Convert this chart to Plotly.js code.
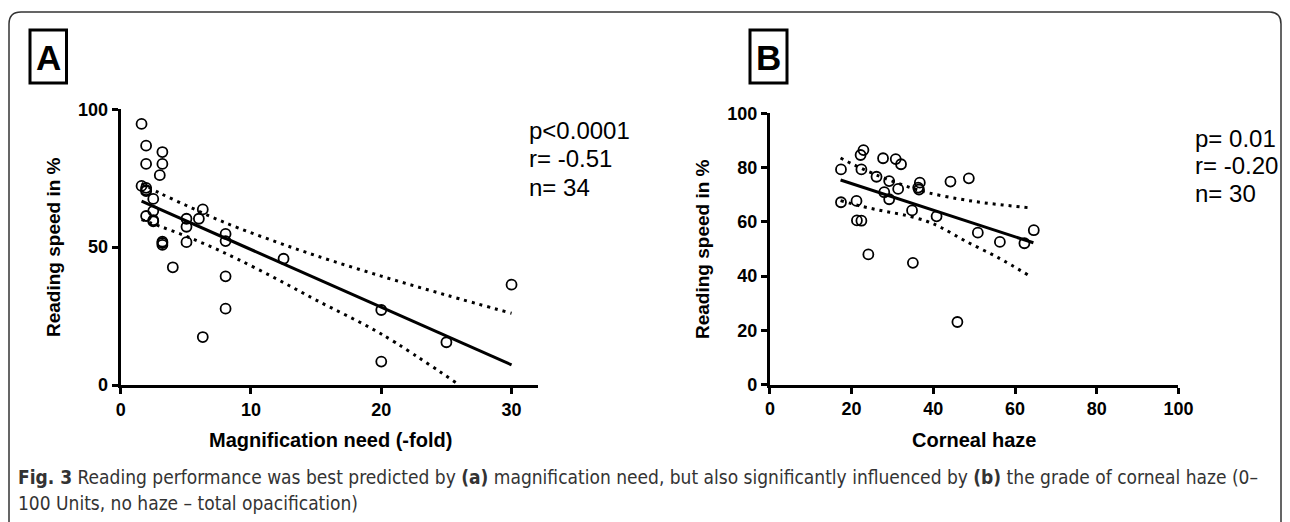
<!DOCTYPE html>
<html>
<head>
<meta charset="utf-8">
<script src="https://cdn.plot.ly/plotly-3.0.1.min.js"></script>
<style>html,body{margin:0;padding:0;background:#fff;}#chart{width:1290px;height:522px;}</style>
</head>
<body>
<div id="chart"></div>
<script>
// ---------- Data: panel A (magnification need vs reading speed) ----------
const magX = [1.6, 1.95, 3.2, 1.95, 3.2, 3.0, 1.6, 1.95, 1.95, 2.5, 2.5, 1.95, 2.5, 2.5,
              6.3, 6.0, 5.05, 5.05, 8.05, 8.05, 3.2, 3.2, 3.2, 5.05, 4.0, 8.05, 8.05, 6.3,
              12.5, 20, 20, 25, 30, 1.95];
const magY = [94.7, 86.8, 84.5, 80.2, 80.2, 76.1, 72.2, 70.7, 70.3, 67.5, 63.1, 61.3, 59.8, 59.4,
              63.7, 60.3, 60.3, 57.4, 54.8, 52.2, 52.0, 50.8, 51.5, 51.8, 42.7, 39.4, 27.7, 17.4,
              45.8, 27.2, 8.5, 15.5, 36.4, 71.5];
const fitAX = [1.6, 30];
const fitAY = [66.7, 7.3];
const upperAX = [1.6, 3, 5, 7, 9, 12, 15, 20, 25, 30];
const upperAY = [73.2, 69.6, 65.2, 60.9, 57.0, 51.8, 46.9, 39.5, 32.6, 26.0];
const lowerAX = [1.6, 3, 5, 7, 9, 12, 15, 20, 26];
const lowerAY = [60.0, 57.6, 54.0, 50.0, 45.6, 38.4, 30.8, 18.5, 0];
const statsA = ["p<0.0001", "r= -0.51", "n= 34"];

// ---------- Data: panel B (corneal haze vs reading speed) ----------
const hazeX = [22.9, 22.2, 27.7, 30.8, 32.1, 17.4, 22.4, 26.1, 29.2, 36.7, 36.3, 31.4, 28.0, 29.2,
               44.2, 48.7, 17.4, 21.2, 21.3, 22.4, 34.8, 40.8, 24.1, 35.0, 50.9, 56.3, 62.3, 64.6,
               45.9, 36.5];
const hazeY = [86.4, 84.6, 83.4, 83.1, 81.2, 79.3, 79.3, 76.6, 75.0, 74.4, 72.6, 72.1, 70.9, 68.3,
               74.8, 76.0, 67.2, 67.7, 60.5, 60.4, 64.2, 62.0, 48.0, 44.9, 56.0, 52.6, 52.1, 56.9,
               23.1, 71.9];
const fitBX = [17.3, 64.5];
const fitBY = [75.4, 52.3];
const upperBX = [17.3, 20, 26, 34, 39, 46, 51.4, 57, 63.2];
const upperBY = [83.5, 81.4, 77.3, 72.8, 70.6, 68.5, 67.2, 66.2, 65.2];
const lowerBX = [17.3, 22.8, 27.7, 32.6, 38.4, 42, 48, 56, 63.2];
const lowerBY = [67.8, 65.6, 64.0, 62.6, 60.2, 57.8, 52.8, 46.7, 40.4];
const statsB = ["p= 0.01", "r= -0.20", "n= 30"];

// ---------- Text ----------
const panelLabels = ["A", "B"];
const yTitle = "Reading speed in %";
const xTitleA = "Magnification need (-fold)";
const xTitleB = "Corneal haze";
const ticksAX = [0, 10, 20, 30];
const ticksAY = [0, 50, 100];
const ticksB = [0, 20, 40, 60, 80, 100];
const caption1 = "<b>Fig. 3</b> Reading performance was best predicted by <b>(a)</b> magnification need, but also significantly influenced by <b>(b)</b> the grade of corneal haze (0–";
const caption2 = "100 Units, no haze – total opacification)";

// ---------- Layout helpers ----------
const W = 1290, H = 522;
const px = v => v / W;
const py = v => (H - v) / H;
const dx = (a, b) => [px(a), px(b)];
const dy = (top, bottom) => [py(bottom), py(top)];

const FONT = "Liberation Sans, Arial, Helvetica, sans-serif";
const CAPFONT = "Liberation Sans Narrow, DejaVu Sans Condensed, Arial Narrow, sans-serif";

const markerStyle = {symbol: "circle-open", size: 10, color: "#000", line: {width: 1.8, color: "#000"}};
const fitLine = {color: "#000", width: 3};
const bandLine = {color: "#000", width: 3, dash: "3px,5px"};

const traces = [
  {x: magX, y: magY, type: "scatter", mode: "markers", marker: markerStyle, xaxis: "x", yaxis: "y", hoverinfo: "x+y"},
  {x: fitAX, y: fitAY, type: "scatter", mode: "lines", line: fitLine, xaxis: "x", yaxis: "y"},
  {x: upperAX, y: upperAY, type: "scatter", mode: "lines", line: Object.assign({shape: "spline"}, bandLine), xaxis: "x", yaxis: "y"},
  {x: lowerAX, y: lowerAY, type: "scatter", mode: "lines", line: Object.assign({shape: "spline"}, bandLine), xaxis: "x", yaxis: "y"},
  {x: hazeX, y: hazeY, type: "scatter", mode: "markers", marker: markerStyle, xaxis: "x2", yaxis: "y2", hoverinfo: "x+y"},
  {x: fitBX, y: fitBY, type: "scatter", mode: "lines", line: fitLine, xaxis: "x2", yaxis: "y2"},
  {x: upperBX, y: upperBY, type: "scatter", mode: "lines", line: Object.assign({shape: "spline"}, bandLine), xaxis: "x2", yaxis: "y2"},
  {x: lowerBX, y: lowerBY, type: "scatter", mode: "lines", line: Object.assign({shape: "spline"}, bandLine), xaxis: "x2", yaxis: "y2"}
];

const axisBase = {
  showline: true, linecolor: "#000", linewidth: 3,
  ticks: "outside", ticklen: 6, tickwidth: 3, tickcolor: "#000",
  showgrid: false, zeroline: false, fixedrange: true,
  tickfont: {family: FONT, size: 18, color: "#000", weight: "bold"},
  tickmode: "array"
};

const annotations = [];
function addText(text, x, y, opts) {
  annotations.push(Object.assign({
    text: text, xref: "paper", yref: "paper", x: px(x), y: py(y),
    showarrow: false, xanchor: "left", yanchor: "middle",
    font: {family: FONT, size: 24, color: "#000"}
  }, opts || {}));
}
statsA.forEach((t, i) => addText(t, 527, 130 + i * 28.5));
statsB.forEach((t, i) => addText(t, 1193, 138 + i * 27.5));
addText(yTitle, 53, 247, {xanchor: "center", textangle: -90, font: {family: FONT, size: 19, color: "#000", weight: "bold"}});
addText(yTitle, 702, 249, {xanchor: "center", textangle: -90, font: {family: FONT, size: 19, color: "#000", weight: "bold"}});
addText(xTitleA, 330, 440, {xanchor: "center", font: {family: FONT, size: 20, color: "#000", weight: "bold"}});
addText(xTitleB, 974, 440, {xanchor: "center", font: {family: FONT, size: 20, color: "#000", weight: "bold"}});
addText(panelLabels[0], 48, 57, {xanchor: "center", font: {family: FONT, size: 35, color: "#000", weight: "bold"}});
addText(panelLabels[1], 768.5, 57, {xanchor: "center", font: {family: FONT, size: 35, color: "#000", weight: "bold"}});
addText(caption1, 16, 477, {font: {family: CAPFONT, size: 19, color: "#333"}});
addText(caption2, 16, 503, {font: {family: CAPFONT, size: 19, color: "#333"}});

const shapes = [
  {type: "rect", xref: "paper", yref: "paper", x0: px(30), x1: px(66.5), y0: py(30), y1: py(83), line: {color: "#000", width: 3}},
  {type: "rect", xref: "paper", yref: "paper", x0: px(750), x1: px(787), y0: py(30), y1: py(83), line: {color: "#000", width: 3}},
  {type: "path", xref: "paper", yref: "paper",
   path: `M ${px(9)},${py(522)} L ${px(9)},${py(24)} Q ${px(9)},${py(12)} ${px(21)},${py(12)} L ${px(1269)},${py(12)} Q ${px(1281)},${py(12)} ${px(1281)},${py(24)} L ${px(1281)},${py(522)}`,
   line: {color: "#333", width: 1.5}}
];

const layout = {
  width: W, height: H, margin: {l: 0, r: 0, t: 0, b: 0},
  paper_bgcolor: "#fff", plot_bgcolor: "rgba(0,0,0,0)",
  showlegend: false, font: {family: FONT, color: "#000"},
  xaxis: Object.assign({}, axisBase, {domain: dx(120.7, 538), range: [0, 32.03], tickvals: ticksAX, anchor: "y"}),
  yaxis: Object.assign({}, axisBase, {domain: dy(109.3, 385), range: [0, 100], tickvals: ticksAY, anchor: "x"}),
  xaxis2: Object.assign({}, axisBase, {domain: dx(769.9, 1178.4), range: [0, 100], tickvals: ticksB, anchor: "y2"}),
  yaxis2: Object.assign({}, axisBase, {domain: dy(113.2, 384.7), range: [0, 100], tickvals: ticksB, anchor: "x2"}),
  annotations: annotations,
  shapes: shapes
};

Plotly.newPlot("chart", traces, layout, {staticPlot: true, displayModeBar: false});
</script>
</body>
</html>
